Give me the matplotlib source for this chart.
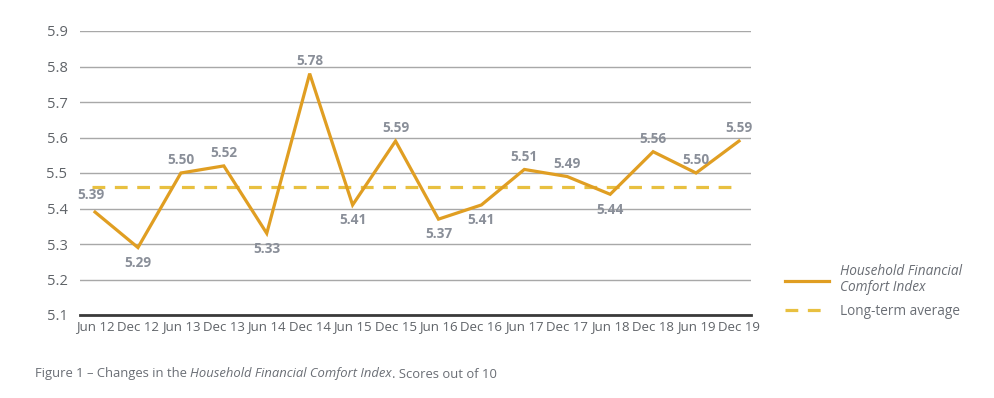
import matplotlib
matplotlib.use("Agg")
import matplotlib.pyplot as plt

categories = ["Jun 12", "Dec 12", "Jun 13", "Dec 13", "Jun 14", "Dec 14", "Jun 15", "Dec 15",
              "Jun 16", "Dec 16", "Jun 17", "Dec 17", "Jun 18", "Dec 18", "Jun 19", "Dec 19"]
index_values = [5.39, 5.29, 5.50, 5.52, 5.33, 5.78, 5.41, 5.59, 5.37, 5.41, 5.51, 5.49, 5.44, 5.56, 5.50, 5.59]
long_term_average = 5.46
y_ticks = [5.1, 5.2, 5.3, 5.4, 5.5, 5.6, 5.7, 5.8, 5.9]
label_above = [True, False, True, True, False, True, False, True, False, False, True, True, False, True, True, True]

plt.rcParams['font.family'] = ['Open Sans', 'DejaVu Sans']

LINE_C = '#E09E22'
AVG_C = '#E8C040'
LABEL_C = '#8A8F99'
TICK_C = '#5F6368'

fig = plt.figure(figsize=(9.95, 3.98), dpi=100)
ax = fig.add_axes([80/995, 1-315/398, (751-80)/995, (315-31)/398])

x = list(range(len(categories)))
ax.plot(x, index_values, color=LINE_C, lw=2.3, solid_joinstyle='miter', zorder=3,
        label="Household Financial\nComfort Index")
ax.plot([-0.07, 14.85], [long_term_average]*2, color=AVG_C, lw=2.3, ls=(0, (4, 3)), zorder=2,
        label="Long-term average")

for i, (v, up) in enumerate(zip(index_values, label_above)):
    if i == 0:
        ax.annotate(f"{v:.2f}", (i, v), xytext=(-3, 7), textcoords='offset points',
                    ha='center', va='bottom', color=LABEL_C, fontsize=9.8, fontweight='bold')
    elif up:
        ax.annotate(f"{v:.2f}", (i, v), xytext=(0, 4), textcoords='offset points',
                    ha='center', va='bottom', color=LABEL_C, fontsize=9.8, fontweight='bold')
    else:
        ax.annotate(f"{v:.2f}", (i, v), xytext=(0, -6), textcoords='offset points',
                    ha='center', va='top', color=LABEL_C, fontsize=9.8, fontweight='bold')

ax.set_xlim(-0.35, 15.28)
ax.set_ylim(5.1, 5.9)
ax.set_yticks(y_ticks)
ax.set_yticklabels([f"{t:.1f}" for t in y_ticks])
ax.set_xticks(x)
ax.set_xticklabels(categories)
ax.grid(axis='y', color='#A8A8A8', lw=1.0)
ax.set_axisbelow(True)
for s in ['top', 'right', 'left']:
    ax.spines[s].set_visible(False)
ax.spines['bottom'].set_color('#3A3A3A')
ax.spines['bottom'].set_linewidth(2)
ax.tick_params(axis='both', length=0, colors=TICK_C)
ax.tick_params(axis='y', pad=9, labelsize=10.5)
ax.tick_params(axis='x', pad=4, labelsize=9.5)

leg = ax.legend(loc='upper left', bbox_to_anchor=(773/995, 1-252/398), bbox_transform=fig.transFigure,
                frameon=False, fontsize=9.8, handlelength=3.2, labelspacing=0.6, handletextpad=0.8)
for t in leg.get_texts():
    t.set_color('#6A6E75')
    t.set_linespacing(1.1)
leg.get_texts()[0].set_fontstyle('italic')

cap_y = 1 - 374/398
fs_cap = 9.4
fig.text(35/995, cap_y, "Figure 1 \u2013 Changes in the ", fontsize=fs_cap, color='#6A6E75', va='center')
fig.canvas.draw()
r = fig.canvas.get_renderer()
bb = fig.texts[0].get_window_extent(r)
t2 = fig.text(bb.x1/995, cap_y, "Household Financial Comfort Index", fontsize=fs_cap, color='#6A6E75',
              va='center', style='italic')
bb2 = t2.get_window_extent(r)
fig.text(bb2.x1/995, cap_y, ". Scores out of 10", fontsize=fs_cap, color='#6A6E75', va='center')

fig.savefig("out.png", dpi=100)
